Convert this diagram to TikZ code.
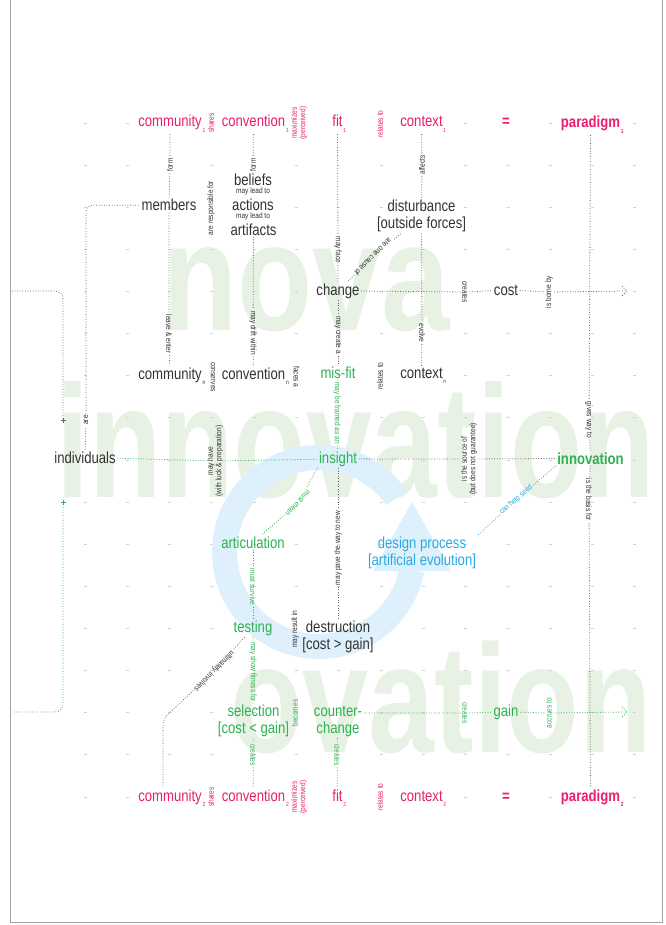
\documentclass[tikz,border=0pt]{standalone}
\usepackage{fontspec}
\setmainfont{Liberation Sans}[FakeStretch=0.82]
\newfontfamily\wmfont{Liberation Sans}[FakeStretch=0.74]
\newfontfamily\wmwide{Liberation Sans}[FakeStretch=0.8]
\newfontfamily\wmmid{Liberation Sans}[FakeStretch=0.77]
\usetikzlibrary{calc}
\definecolor{cmag}{RGB}{233,30,110}
\definecolor{cgrn}{RGB}{45,178,80}
\definecolor{cblu}{RGB}{41,171,226}
\definecolor{ctxt}{RGB}{50,50,50}
\definecolor{clin}{RGB}{100,100,100}
\definecolor{cwm}{RGB}{231,242,228}
\definecolor{cring}{RGB}{222,240,251}
\definecolor{cframe}{RGB}{160,160,160}
\definecolor{cgrid}{RGB}{210,210,210}
\newcommand\mainsz{\fontsize{16}{17}\selectfont}
\newcommand\tagsz{\fontsize{8}{8.5}\selectfont}
\newcommand\idx[1]{\rlap{\kern0.8pt\raisebox{-5.5pt}{\fontsize{6}{6}\selectfont#1}}}
\begin{document}
\begin{tikzpicture}[x=1pt,y=-1pt,
  tw/.style={font=\mainsz, text=ctxt, anchor=base, inner sep=1.5pt},
  pw/.style={tw, text=cmag},
  gw/.style={tw, text=cgrn},
  bw/.style={tw, text=cblu},
  bold/.style={font=\mainsz\bfseries},
  tag/.style={font=\tagsz, text=ctxt, inner sep=1.5pt},
  ptag/.style={tag, text=cmag},
  gtag/.style={tag, text=cgrn},
  btag/.style={tag, text=cblu},
  tup/.style={rotate=90},
  tdn/.style={rotate=-90},
  link/.style={draw=clin, line width=0.8pt, dash pattern=on 0.8pt off 1.8pt},
  glink/.style={link, draw=cgrn},
  blink/.style={link, draw=cblu},
  wm/.style={anchor=base west, inner sep=0pt, text=cwm}]
\useasboundingbox (0,0) rectangle (665,925);

% large background words
\begin{scope}
  \clip (10,0) rectangle (662,922);
  \node[wm, font=\wmwide\bfseries\fontsize{154}{154}\selectfont] (wnova) at (162,330) {nova};
  \node[wm, font=\wmfont\bfseries\fontsize{160}{160}\selectfont] (winno) at (56,497) {innovation};
  \node[wm, font=\wmmid\bfseries\fontsize{154}{154}\selectfont] (wova) at (230,752) {ovation};
\end{scope}

% faint grid marks
\foreach \i in {0,...,13}
  \foreach \j in {0,...,16}
    \draw[cgrid, line width=0.8pt] ({85+42.3*\i-1.5},{123+42.125*\j}) -- ++(3,0);

% circular process arrow
\coordinate (rc) at (319,552);
\draw[cring, line width=25pt] ($(rc)+(-35:94.5)$) arc[start angle=-35, end angle=-349, radius=94.5];
\fill[cring] (412,502) -- (451,571) -- (373,571) -- cycle;

% frame
\draw[cframe, line width=1pt] (10,-5) rectangle (662,922);

% ---- row 1
\node[pw] (c1) at (170,127) {community\idx{1}};
\node[ptag, tup] (sh1) at (211,123) {shares};
\node[pw] (v1) at (253.5,127) {convention\idx{1}};
\node[ptag, tup, align=center] (mx1) at (299,123) {maximizes\\(perceived)};
\node[pw] (f1) at (337.5,127) {fit\idx{1}};
\node[ptag, tup] (rl1) at (380,124) {relates to};
\node[pw] (x1) at (421.5,127) {context\idx{1}};
\node[pw, bold] (eq1) at (506,127) {=};
\node[pw, bold] (p1) at (590.5,128) {paradigm\idx{1}};

% ---- row 2
\node[tw] (mem) at (169,211) {members};
\node[tw] (bel) at (253,186) {beliefs};
\node[tag] (ml1) at (253,191) {may lead to};
\node[tw] (act) at (253,211) {actions};
\node[tag] (ml2) at (253,216) {may lead to};
\node[tw] (art) at (253.5,235) {artifacts};
\node[tag, tup] (resp) at (211,208) {are responsible for};
\node[tw, anchor=center, align=center] (dist) at (421.5,216) {disturbance\\{[outside forces]}};

% ---- row 3
\node[tw] (chg) at (338,295) {change};
\node[tag, tdn] (cr3) at (465,292) {creates};
\node[tw] (cost) at (506,295) {cost};
\node[tag, tup] (bor) at (549,292) {is borne by};
\coordinate (costout) at (627,291);

% ---- row 4
\node[tw] (cn) at (170,379) {community\idx{n}};
\node[tag, tdn] (cons) at (213,377) {conserves};
\node[tw] (vn) at (253.5,379) {convention\idx{n}};
\node[tag, tdn] (faces) at (296.5,377) {faces a};
\node[gw] (mis) at (338,378) {mis-fit};
\node[tag, tup] (rln) at (380,376) {relates to};
\node[tw] (xn) at (421.5,378) {context\idx{n}};

% ---- row 5
\node[tw] (ind) at (85,463) {individuals};
\node[tag, tup, align=center] (luck) at (215,461) {may have\\(with luck \& preparation)};
\node[gw] (ins) at (338,463) {insight};
\node[tag, tup, align=center] (src) at (469,459) {is the source of\\(but does not guarantee)};
\node[gw, bold] (inn) at (590.5,464) {innovation};

% ---- row 6
\node[gw] (artc) at (253,548) {articulation};
\node[bw, anchor=center, align=center] (dp) at (422,553) {design process\\{[artificial evolution]}};

% ---- row 7
\node[gw] (test) at (253,632) {testing};
\node[tag, tup] (res) at (295,629) {may result in};
\node[tw, anchor=center, align=center] (destr) at (338,637) {destruction\\{[cost > gain]}};

% ---- row 8
\node[gw, anchor=center, align=center] (sel) at (253.5,721) {selection\\{[cost < gain]}};
\node[gtag, tup] (bec) at (295,713) {becomes};
\node[gw, anchor=center, align=center] (cc) at (338,721) {counter-\\change};
\node[gtag, tdn] (cr8) at (465,713) {creates};
\node[gw] (gain) at (506,716) {gain};
\node[gtag, tup] (acc) at (549,713) {accrues to};
\coordinate (gainout) at (627,712);

% ---- row 9
\node[pw] (c2) at (170,801) {community\idx{2}};
\node[ptag, tup] (sh2) at (211,797) {shares};
\node[pw] (v2) at (253.5,801) {convention\idx{2}};
\node[ptag, tup, align=center] (mx2) at (299,797) {maximizes\\(perceived)};
\node[pw] (f2) at (337.5,801) {fit\idx{2}};
\node[ptag, tup] (rl2) at (380,797) {relates to};
\node[pw] (x2) at (421.5,801) {context\idx{2}};
\node[pw, bold] (eq2) at (506,801) {=};
\node[pw, bold] (p2) at (590.5,801) {paradigm\idx{2}};

% ---- connector labels
\node[tag, tup] (form1) at (170,165) {form};
\node[tag, tup] (form2) at (253,165) {form};
\node[tag, tup] (aff) at (422,165) {affects};
\node[tag, tdn] (face) at (338,250) {may face};
\node[tag, rotate=-135] (cause) at (373,257) {are one cause of};
\node[tag, tdn] (leave) at (169,334) {leave \& enter};
\node[tag, tdn] (drift) at (253,333) {may drift within};
\node[tag, tdn] (create) at (338,335) {may create a};
\node[tag, tdn] (evo) at (422,333) {evolve};
\node[tag, tdn] (gives) at (589,420) {gives way to};
\node[gtag, tdn] (framed) at (337,413) {may be framed as an};
\node[tag, tdn] (basis) at (589,500) {is the basis for};
\node[gtag, rotate=-133] (mean) at (298,503) {must mean};
\node[btag, rotate=41] (seed) at (516,500) {can help seed};
\node[tag, tup] (pave) at (338,548) {may pave the way to new};
\node[gtag, tdn] (surv) at (253,587) {must survive};
\node[tag, rotate=-135] (ult) at (214,671) {ultimately involves};
\node[gtag, tdn] (fitn) at (253,672) {may show fitness for};
\node[gtag, tdn] (cr9a) at (253,755) {creates};
\node[gtag, tdn] (cr9b) at (337,755) {creates};
\node[tag, tup] (are) at (86,420) {are};

% ---- connectors
\draw[link] (c1) -- (form1) -- (mem);
\draw[link] (v1) -- (form2) -- (bel);
\draw[link] (f1) -- (face) -- (chg);
\draw[link] (x1) -- (aff) -- (dist);
\draw[link] (dist) -- (cause) -- (chg);
\draw[link] (dist) -- (evo) -- (xn);
\draw[link] (chg) -- (cr3) -- (cost) -- (bor) -- (costout);
\draw[link] ($(costout)+(-5,-5)$) -- (costout) -- ($(costout)+(-5,5)$);
\draw[link] (mem) -- (leave) -- (cn);
\draw[link] (art) -- (drift) -- (vn);
\draw[link] (chg) -- (create) -- (mis);
\draw[glink] (mis) -- (framed) -- (ins);
\draw[glink] (ind) -- (luck) -- (ins);
\draw[link] (ins) -- (src) -- (inn);
\draw[link] (p1) -- (gives) -- (inn);
\draw[link] (inn) -- (basis) -- (p2);
\draw[glink] (ins.south west) -- (mean) -- (artc);
\draw[blink] (inn.south west) -- (seed) -- (dp.north east);
\draw[link] (ins) -- (pave) -- (destr);
\draw[glink] (artc) -- (surv) -- (test);
\draw[glink] (test) -- (fitn) -- (sel);
\coordinate (ultbend) at (163,719);
\draw[link] (test) -- (ult);
\draw[link, rounded corners=6pt] (ult) -- (ultbend) -- (ultbend |- c2.north);
\draw[glink] (cc.east |- cr8) -- (cr8) -- (gain) -- (acc) -- (gainout);
\draw[glink] ($(gainout)+(-5,-5)$) -- (gainout) -- ($(gainout)+(-5,5)$);
\draw[glink] (sel) -- (cr9a) -- (v2);
\draw[glink] (cc) -- (cr9b) -- (f2);
\draw[link, rounded corners=6pt] (are) |- (mem);
\draw[link] (ind) -- (are);

% wrap-around entry and exit on the left
\coordinate (inL) at (12,291);
\coordinate (inEnd) at (63,420);
\draw[link, rounded corners=8pt] (inL) -| (inEnd);
\draw[clin, line width=0.5pt] ($(inEnd)+(-2.5,0)$) -- ($(inEnd)+(2.5,0)$) ($(inEnd)+(0,-2.5)$) -- ($(inEnd)+(0,2.5)$);
\coordinate (outStart) at (63,502);
\coordinate (outL) at (12,712);
\draw[glink, rounded corners=8pt] (outStart) |- (outL);
\draw[cgrn, line width=0.5pt] ($(outStart)+(-2.5,0)$) -- ($(outStart)+(2.5,0)$) ($(outStart)+(0,-2.5)$) -- ($(outStart)+(0,2.5)$);
\end{tikzpicture}
\end{document}
